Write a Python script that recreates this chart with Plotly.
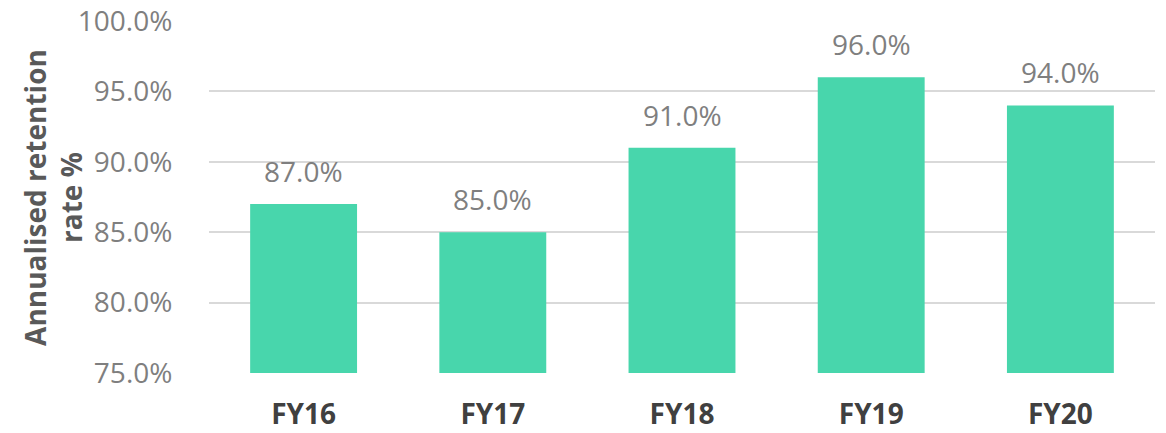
import plotly.graph_objects as go

categories = ["FY16", "FY17", "FY18", "FY19", "FY20"]
retention = [87.0, 85.0, 91.0, 96.0, 94.0]
labels = [f"{v:.1f}%" for v in retention]
ytick_vals = [75, 80, 85, 90, 95, 100]
ytick_text = [f"{v:.1f}%" for v in ytick_vals]

fig = go.Figure()
fig.add_trace(go.Bar(
    x=categories, y=retention,
    marker=dict(color="#48d6ac", line=dict(width=0)),
    cliponaxis=False, hoverinfo="skip",
))
annotations = [
    dict(x=c, y=v, text=t, xref="x", yref="y", showarrow=False,
         yanchor="bottom", yshift=12,
         font=dict(family="Open Sans", size=28, color="#7f7f7f"))
    for c, v, t in zip(categories, retention, labels)
]
annotations.append(dict(
    text="Annualised retention<br>rate %", textangle=-90,
    xref="paper", yref="paper", x=-0.165, y=0.5,
    xanchor="center", yanchor="middle", showarrow=False,
    font=dict(family="Open Sans", size=28, color="#595959", weight="bold"),
    align="center",
))
fig.update_layout(
    width=1166, height=433,
    margin=dict(l=209, r=11, t=21, b=60, autoexpand=False),
    plot_bgcolor="white", paper_bgcolor="white",
    bargap=0.435, showlegend=False,
    xaxis=dict(
        showgrid=False, showline=False, zeroline=False, automargin=False,
        ticks="outside", ticklen=16, tickcolor="rgba(0,0,0,0)",
        tickfont=dict(family="Open Sans", size=28, color="#404040", weight="bold"),
    ),
    yaxis=dict(
        range=[75, 100], tickvals=ytick_vals, ticktext=ytick_text,
        showgrid=True, gridcolor="#d9d9d9", gridwidth=1.5,
        zeroline=False, showline=False, automargin=False,
        ticks="outside", ticklen=30, tickcolor="rgba(0,0,0,0)",
        tickfont=dict(family="Open Sans", size=28, color="#7f7f7f"),
    ),
    annotations=annotations,
)
fig.write_html("out.html", config={"displayModeBar": False},
               post_script="document.body.style.margin='0';document.body.style.overflow='hidden';")
